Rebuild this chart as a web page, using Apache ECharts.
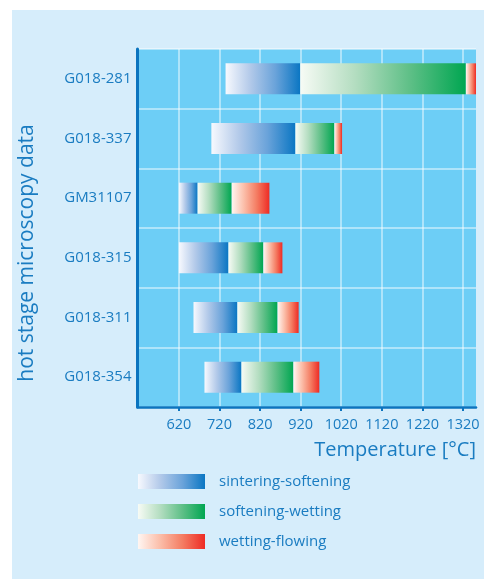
<!DOCTYPE html>
<html>
<head>
<meta charset="utf-8">
<script src="https://cdn.jsdelivr.net/npm/echarts@6/dist/echarts.min.js"></script>
<style>
html,body{margin:0;padding:0;background:#ffffff;}
#chart{width:484px;height:579px;}
</style>
</head>
<body>
<div id="chart"></div>
<script>
// Data
var categories = ['G018-281', 'G018-337', 'GM31107', 'G018-315', 'G018-311', 'G018-354'];
var sinteringStart = [735, 700, 620, 620, 656, 683];
var softeningPoint = [919, 907, 666, 742, 764, 774];
var wettingPoint   = [1327, 1003, 750, 828, 863, 902];
var flowingPoint   = [1352, 1022, 843, 875, 915, 966];
var tickValues = [620, 720, 820, 920, 1020, 1120, 1220, 1320];
var seriesNames = ['sintering-softening', 'softening-wetting', 'wetting-flowing'];

var textColor = '#1a7cc1';
var font = 'Open Sans';

function diff(a, b) { return a.map(function (v, i) { return v - b[i]; }); }
function grad(stops) {
  return new echarts.graphic.LinearGradient(0, 0, 1, 0, stops.map(function (c, i) {
    return { offset: i / (stops.length - 1), color: c };
  }));
}
var blue = grad(['#f7f9fe', '#b2c9e9', '#6aa3da', '#0a76c3']);
var green = grad(['#f7fbf5', '#b3ddc0', '#5dbf86', '#00a651']);
var red = grad(['#fff6f2', '#fbbda8', '#f47c62', '#ee2b24']);

var chart = echarts.init(document.getElementById('chart'), null, { renderer: 'canvas' });

var segStyle = function (c) {
  return { type: 'bar', stack: 'hsm', barWidth: 31, itemStyle: { color: c }, emphasis: { disabled: true }, silent: true };
};

var option = {
  backgroundColor: '#ffffff',
  animation: false,
  textStyle: { fontFamily: font },
  graphic: [{
    type: 'rect', z: -10, silent: true,
    shape: { x: 12, y: 10, width: 484 - 12, height: 579 - 10 },
    style: { fill: '#d6edfb' }
  }],
  grid: {
    left: 137.5, right: 8, top: 49, bottom: 172,
    show: true, backgroundColor: '#6dcef6', borderWidth: 0
  },
  legend: {
    orient: 'vertical', left: 138, top: 474, padding: 0,
    itemWidth: 67, itemHeight: 15, itemGap: 15,
    icon: 'rect',
    data: seriesNames,
    selectedMode: false,
    textStyle: { color: textColor, fontSize: 15, fontFamily: font, padding: [0, 0, 0, 9] }
  },
  xAxis: {
    type: 'value', min: 518, max: 1352,
    name: 'Temperature [°C]', nameLocation: 'end', nameGap: 0,
    nameTextStyle: { color: textColor, fontSize: 20, fontFamily: font, align: 'right', verticalAlign: 'top', padding: [33, 0, 0, 0] },
    axisLine: { show: true, lineStyle: { color: '#0b74bf', width: 2.5 } },
    axisTick: { show: true, length: 4, lineStyle: { color: '#0b74bf', width: 2 }, customValues: tickValues },
    axisLabel: { color: textColor, fontSize: 14.5, fontFamily: font, margin: 10, customValues: tickValues,
      formatter: function (v) { return String(v); } },
    splitLine: { show: true, lineStyle: { color: 'rgba(255,255,255,0.6)', width: 1.5 } }
  },
  yAxis: {
    type: 'category', inverse: true, data: categories,
    name: 'hot stage microscopy data', nameLocation: 'middle', nameGap: 100, nameRotate: 90,
    nameTextStyle: { color: textColor, fontSize: 21, fontFamily: font, padding: [0, 50, 0, 0] },
    axisLine: { show: true, lineStyle: { color: '#0b74bf', width: 3 } },
    axisTick: { show: false },
    axisLabel: { color: textColor, fontSize: 15, fontFamily: font, margin: 6 },
    splitLine: { show: true, lineStyle: { color: 'rgba(255,255,255,0.6)', width: 1.5 } }
  },
  series: [
    { name: 'base', type: 'bar', stack: 'hsm', barWidth: 31, data: sinteringStart, itemStyle: { color: 'rgba(0,0,0,0)' }, silent: true, emphasis: { disabled: true } },
    Object.assign(segStyle(blue), { name: seriesNames[0], data: diff(softeningPoint, sinteringStart) }),
    Object.assign(segStyle(green), { name: seriesNames[1], data: diff(wettingPoint, softeningPoint) }),
    Object.assign(segStyle(red), { name: seriesNames[2], data: diff(flowingPoint, wettingPoint) })
  ]
};
chart.setOption(option);
</script>
</body>
</html>
